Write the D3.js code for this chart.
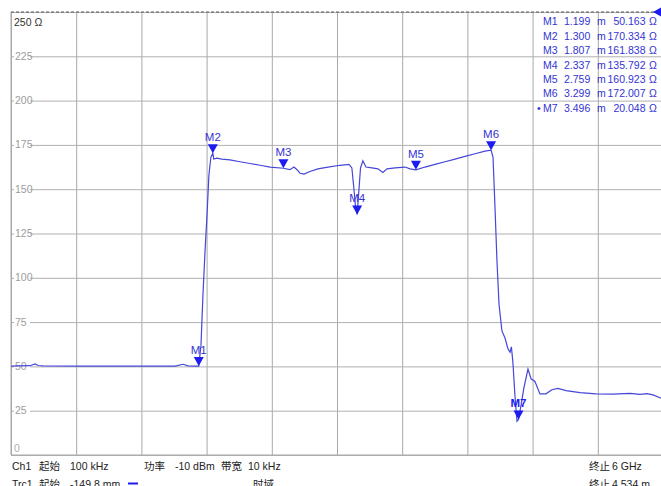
<!DOCTYPE html>
<html>
<head>
<meta charset="utf-8">
<script src="https://cdn.jsdelivr.net/npm/d3@7"></script>
<style>
  body { margin: 0; background: #fff; overflow: hidden; }
  svg { display: block; font-family: "Liberation Sans", "Noto Sans CJK SC", sans-serif; }
</style>
</head>
<body>
<div id="chart"></div>
<script>
// trace: distance (m) vs impedance (ohm)
var dist = [-0.150, -0.085, -0.013, 0.023, 0.045, 0.080, 0.346, 0.633, 0.849, 1.028, 1.086, 1.122, 1.172, 1.199,
  1.215, 1.229, 1.244, 1.258, 1.272, 1.286, 1.300, 1.307, 1.330, 1.364, 1.423, 1.495, 1.567, 1.639, 1.711, 1.807,
  1.854, 1.883, 1.905, 1.926, 1.955, 1.998, 2.055, 2.127, 2.214, 2.278, 2.299, 2.314, 2.325, 2.337, 2.350, 2.361,
  2.378, 2.400, 2.443, 2.486, 2.522, 2.551, 2.609, 2.681, 2.717, 2.759, 2.824, 2.896, 2.968, 3.040, 3.112, 3.184,
  3.255, 3.299, 3.313, 3.327, 3.341, 3.356, 3.377, 3.399, 3.420, 3.435, 3.445, 3.456, 3.470, 3.485, 3.496, 3.514,
  3.535, 3.564, 3.586, 3.614, 3.650, 3.693, 3.736, 3.780, 3.837, 3.938, 4.053, 4.175, 4.297, 4.369, 4.419, 4.462,
  4.512, 4.534];
var ohm = [50.2, 50.3, 50.4, 51.4, 50.5, 50.3, 50.2, 50.1, 50.2, 50.2, 51.2, 50.3, 50.2, 50.163,
  62, 90, 115, 135, 158, 168, 170.334, 167, 167.5, 167, 166.5, 165.5, 164.5, 163.5, 162.5, 161.838,
  161, 162.5, 161, 159, 158.5, 160, 161.5, 162.5, 163.5, 164, 162, 150, 140, 135.792, 150, 162,
  166, 162.5, 162, 161.5, 159.5, 161.5, 162, 162.5, 161.5, 160.923, 162.5, 164, 165.5, 167, 168.5, 170,
  171.5, 172.007, 168, 140, 110, 85, 70, 66, 60, 58, 61, 52, 34, 19, 20.048, 28,
  38, 48.5, 43, 41.5, 34.5, 34.5, 36.8, 37.6, 36.3, 35.2, 34.5, 34.4, 34.8, 34.2, 34.6, 33.9,
  32.3, 32];

var markerNames = ["M1", "M2", "M3", "M4", "M5", "M6", "M7"];
var markerDist = [1.199, 1.300, 1.807, 2.337, 2.759, 3.299, 3.496];
var markerOhm = [50.163, 170.334, 161.838, 135.792, 160.923, 172.007, 20.048];
var activeMarker = "M7";

var yTicks = [0, 25, 50, 75, 100, 125, 150, 175, 200, 225, 250];
var startDist = -0.1498, stopDist = 4.534;

var W = 661, H = 486;
var plot = { left: 11, top: 12, right: 663, bottom: 455 };
var traceColor = "#4646d8", markColor = "#1c1cf0", textBlue = "#3434d4";

var svg = d3.select("#chart").append("svg").attr("width", W).attr("height", H);

var x = d3.scaleLinear().domain([startDist, stopDist]).range([plot.left, plot.right]);
var y = d3.scaleLinear().domain([0, 250]).range([plot.bottom, plot.top]);

// vertical grid: 10 divisions
var xDivs = d3.range(11).map(function(i) { return startDist + i * (stopDist - startDist) / 10; });
svg.append("g")
  .attr("transform", "translate(0," + plot.top + ")")
  .call(d3.axisBottom(x).tickValues(xDivs).tickSize(plot.bottom - plot.top).tickFormat(""))
  .call(function(g) {
    g.select(".domain").remove();
    g.selectAll("line").attr("stroke", "#a8a8a8");
  });

// horizontal grid
svg.append("g")
  .attr("transform", "translate(" + plot.left + ",0)")
  .call(d3.axisRight(y).tickValues(yTicks).tickSize(plot.right - plot.left).tickFormat(""))
  .call(function(g) {
    g.select(".domain").remove();
    g.selectAll("line").attr("stroke", "#b0b0b0");
  });

// tick labels with white gap
var lab = svg.append("g");
yTicks.filter(function(d) { return d > 0 && d < 250; }).forEach(function(d) {
  lab.append("rect").attr("x", 14).attr("y", y(d) - 6).attr("width", 16).attr("height", 12).attr("fill", "#fff");
  lab.append("text").attr("x", 15).attr("y", y(d) + 3.5)
    .attr("font-size", 10.5).attr("fill", "#9c9c9c").text(d);
});
lab.append("text").attr("x", 14).attr("y", 452).attr("font-size", 10.5).attr("fill", "#b0b0b0").text("0");
lab.append("text").attr("x", 14).attr("y", 25.5).attr("font-size", 10.5).attr("fill", "#333").text("250 Ω");

// frame
svg.append("line").attr("x1", plot.left).attr("x2", plot.left).attr("y1", plot.top).attr("y2", plot.bottom)
  .attr("stroke", "#a8a8a8");
svg.append("line").attr("x1", plot.left).attr("x2", plot.right).attr("y1", plot.bottom).attr("y2", plot.bottom)
  .attr("stroke", "#a8a8a8");
svg.append("line").attr("x1", plot.left).attr("x2", plot.right).attr("y1", plot.top).attr("y2", plot.top)
  .attr("stroke", "#555").attr("stroke-dasharray", "3,2");
svg.append("path").attr("d", "M653,12 L661,7.5 L661,16.5 Z").attr("fill", markColor);

// trace
var line = d3.line().x(function(d) { return x(d[0]); }).y(function(d) { return y(d[1]); });
svg.append("path")
  .datum(dist.map(function(d, i) { return [d, ohm[i]]; }))
  .attr("fill", "none").attr("stroke", traceColor).attr("stroke-width", 1.2)
  .attr("d", line);

// markers
var mk = svg.append("g");
markerNames.forEach(function(name, i) {
  var mx = x(markerDist[i]), my = y(markerOhm[i]);
  mk.append("path")
    .attr("d", "M" + (mx - 5) + "," + (my - 9) + " L" + (mx + 5) + "," + (my - 9) + " L" + mx + "," + my + " Z")
    .attr("fill", markColor);
  mk.append("text").attr("x", mx).attr("y", my - 12)
    .attr("text-anchor", "middle").attr("font-size", 11.5)
    .attr("font-weight", name === activeMarker ? "bold" : "normal")
    .attr("fill", name === activeMarker ? markColor : textBlue).text(name);
});

// marker table
var tbl = svg.append("g").attr("font-size", 10.5).attr("fill", textBlue);
markerNames.forEach(function(name, i) {
  var ty = 25.3 + i * 14.4;
  if (name === activeMarker) tbl.append("text").attr("x", 537).attr("y", ty).text("•");
  tbl.append("text").attr("x", 543).attr("y", ty).text(name);
  tbl.append("text").attr("x", 564).attr("y", ty).text(markerDist[i].toFixed(3));
  tbl.append("text").attr("x", 597).attr("y", ty).text("m");
  tbl.append("text").attr("x", 645.5).attr("y", ty).attr("text-anchor", "end").text(markerOhm[i].toFixed(3));
  tbl.append("text").attr("x", 649).attr("y", ty).text("Ω");
});

// status lines
var st = svg.append("g").attr("font-size", 10.5).attr("fill", "#222");
function put(tx, ty, s) { st.append("text").attr("x", tx).attr("y", ty).text(s); }
put(12, 470, "Ch1"); put(39, 470, "起始"); put(70, 470, "100 kHz");
put(144, 470, "功率"); put(175, 470, "-10 dBm"); put(221, 470, "带宽"); put(248, 470, "10 kHz");
put(589, 470, "终止"); put(612, 470, "6 GHz");
put(12, 488, "Trc1"); put(39, 488, "起始"); put(70, 488, "-149.8 mm");
put(253, 488, "时域"); put(589, 488, "终止"); put(612, 488, "4.534 m");
st.append("line").attr("x1", 128).attr("x2", 138).attr("y1", 483.5).attr("y2", 483.5)
  .attr("stroke", markColor).attr("stroke-width", 2);
</script>
</body>
</html>
